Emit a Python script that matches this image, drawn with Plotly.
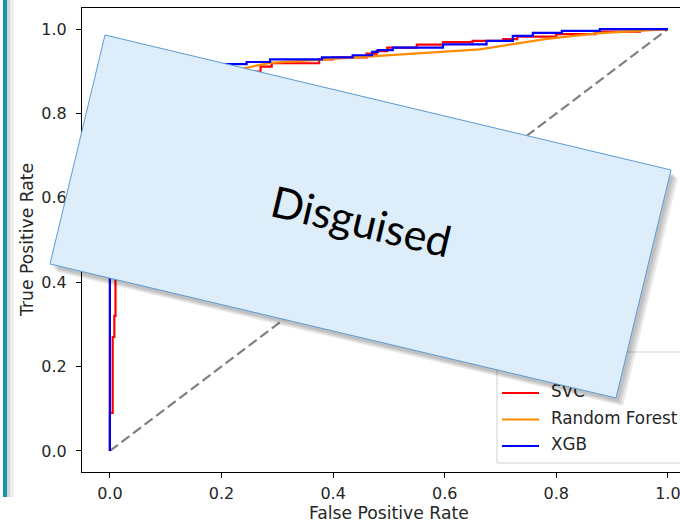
import plotly.graph_objects as go

# ---------------- data ----------------
model_names = ["SVC", "Random Forest", "XGB"]
model_colors = ["#ff0000", "#ff8c00", "#0000ff"]

svc_fpr = [0, 0, 0.005, 0.005, 0.008, 0.008, 0.01, 0.01, 0.03, 0.03, 0.08, 0.08, 0.15, 0.15, 0.2, 0.2,
           0.258, 0.258, 0.27, 0.27, 0.29, 0.29, 0.375, 0.375, 0.40, 0.40, 0.46, 0.46, 0.478, 0.478,
           0.497, 0.497, 0.55, 0.55, 0.597, 0.597, 0.65, 0.65, 0.705, 0.705, 0.73, 0.73, 0.80, 0.80,
           0.87, 0.87, 0.95, 0.95, 0.98, 0.98, 1.0]
svc_tpr = [0, 0.09, 0.09, 0.27, 0.27, 0.32, 0.32, 0.60, 0.60, 0.75, 0.75, 0.82, 0.82, 0.87, 0.87, 0.89,
           0.89, 0.899, 0.899, 0.911, 0.911, 0.919, 0.919, 0.928, 0.928, 0.933, 0.933, 0.942, 0.942, 0.948,
           0.948, 0.956, 0.956, 0.963, 0.963, 0.969, 0.969, 0.972, 0.972, 0.976, 0.976, 0.982, 0.982, 0.988,
           0.988, 0.994, 0.994, 0.998, 0.998, 1.0, 1.0]

rf_fpr = [0, 0, 0.05, 0.15, 0.24, 0.287, 0.663, 0.783, 0.873, 1.0]
rf_tpr = [0, 0.80, 0.86, 0.895, 0.907, 0.92, 0.952, 0.977, 0.99, 1.0]

xgb_fpr = [0, 0, 0.02, 0.02, 0.06, 0.06, 0.12, 0.12, 0.18, 0.18, 0.245, 0.245, 0.287, 0.287, 0.38, 0.38,
           0.435, 0.435, 0.47, 0.47, 0.48, 0.48, 0.507, 0.507, 0.597, 0.597, 0.675, 0.675, 0.722, 0.722,
           0.758, 0.758, 0.81, 0.81, 0.878, 0.878, 1.0]
xgb_tpr = [0, 0.80, 0.80, 0.85, 0.85, 0.88, 0.88, 0.90, 0.90, 0.917, 0.917, 0.922, 0.922, 0.928, 0.928, 0.933,
           0.933, 0.938, 0.938, 0.946, 0.946, 0.950, 0.950, 0.956, 0.956, 0.964, 0.964, 0.972, 0.972, 0.984,
           0.984, 0.991, 0.991, 0.996, 0.996, 1.0, 1.0]

chance_x = [0, 1]
chance_y = [0, 1]

tick_vals = [0.0, 0.2, 0.4, 0.6, 0.8, 1.0]
tick_text = ["0.0", "0.2", "0.4", "0.6", "0.8", "1.0"]

x_title = "False Positive Rate"
y_title = "True Positive Rate"
overlay_text = "Disguised"

# ---------------- layout geometry ----------------
W, H = 680, 523
ML, MR, MT, MB = 82, 0, 8, 51
PW, PH = W - ML - MR, H - MT - MB
PX_PER_X = 558.0
X0 = -0.05
Y_RANGE = [-0.05, 1.05]
X_RANGE = [X0, X0 + PW / PX_PER_X]


def px(x):
    return (x - ML) / PW


def py(y):
    return (H - MB - y) / PH


def dx(x):  # pixel -> data x
    return X0 + (x - ML) / PX_PER_X


def dy(y):  # pixel -> data y
    return Y_RANGE[1] - (y - MT) / PH * (Y_RANGE[1] - Y_RANGE[0])


FONT = "DejaVu Sans"
TEXT_COL = "#262626"

fig = go.Figure()

fig.add_trace(go.Scatter(x=chance_x, y=chance_y, mode="lines",
                         line=dict(color="#808080", width=2.2, dash="10px,4.5px"),
                         showlegend=False, hoverinfo="skip"))

for fx, ty, name, col in [(svc_fpr, svc_tpr, model_names[0], model_colors[0]),
                          (rf_fpr, rf_tpr, model_names[1], model_colors[1]),
                          (xgb_fpr, xgb_tpr, model_names[2], model_colors[2])]:
    fig.add_trace(go.Scatter(x=fx, y=ty, mode="lines", name=name,
                             line=dict(color=col, width=2.2), showlegend=False))

# manual matplotlib-style legend (drawn below the overlay box)
legend_rows_px = [393, 419.5, 446]
shapes = []
shapes.append(dict(type="rect", xref="paper", yref="paper", layer="below",
                   x0=px(497), x1=px(700), y0=py(463), y1=py(352),
                   line=dict(color="#d0d0d0", width=1), fillcolor="rgba(255,255,255,0.8)"))
for ry, name, col in zip(legend_rows_px, model_names, model_colors):
    shapes.append(dict(type="line", xref="paper", yref="paper", layer="below",
                       x0=px(502), x1=px(539), y0=py(ry), y1=py(ry),
                       line=dict(color=col, width=2.2)))
    fig.add_trace(go.Scatter(x=[dx(551)], y=[dy(ry)], mode="text", text=[name],
                             textposition="middle right", cliponaxis=False,
                             textfont=dict(family=FONT, size=16.8, color=TEXT_COL),
                             showlegend=False, hoverinfo="skip"))

# notebook cell border on the left
shapes.append(dict(type="rect", xref="paper", yref="paper", layer="above",
                   x0=px(3), x1=px(7), y0=py(497), y1=py(-2),
                   line=dict(width=0), fillcolor="#1797a6"))
shapes.append(dict(type="rect", xref="paper", yref="paper", layer="above",
                   x0=px(7), x1=px(10), y0=py(497), y1=py(-2),
                   line=dict(width=0), fillcolor="#d6d6d6"))
shapes.append(dict(type="rect", xref="paper", yref="paper", layer="above",
                   x0=px(10), x1=px(14), y0=py(497), y1=py(-2),
                   line=dict(width=0), fillcolor="#eeeeee"))

# overlay box
corners = [(105, 35), (671, 170), (616, 398), (50, 264)]


def poly(off_x=0, off_y=0):
    pts = [(px(x + off_x), py(y + off_y)) for x, y in corners]
    return "M " + " L ".join(f"{a:.5f},{b:.5f}" for a, b in pts) + " Z"


for o in [(7, 8), (5, 6), (3, 4)]:
    shapes.append(dict(type="path", xref="paper", yref="paper", layer="above",
                       path=poly(*o), line=dict(width=0), fillcolor="rgba(0,0,0,0.09)"))
shapes.append(dict(type="path", xref="paper", yref="paper", layer="above",
                   path=poly(), line=dict(color="#5b9bd5", width=1), fillcolor="#ddedf9"))

annotations = [
    dict(text=overlay_text, xref="paper", yref="paper", x=px(361), y=py(220),
         showarrow=False, textangle=13.4, xanchor="center", yanchor="middle",
         font=dict(family="Lato", size=43, color="#000000")),
    dict(text=x_title, xref="paper", yref="paper", x=px(389), y=py(513),
         showarrow=False, xanchor="center", yanchor="middle",
         font=dict(family=FONT, size=17.2, color=TEXT_COL)),
    dict(text=y_title, xref="paper", yref="paper", x=px(27), y=py(240),
         showarrow=False, textangle=-90, xanchor="center", yanchor="middle",
         font=dict(family=FONT, size=17.2, color=TEXT_COL)),
]

axis_common = dict(showgrid=False, zeroline=False, showline=True, linecolor="#000000", linewidth=1,
                   ticks="outside", ticklen=5, tickwidth=1, tickcolor="#000000",
                   tickvals=tick_vals, ticktext=tick_text, ticklabeloverflow="allow",
                   tickfont=dict(family=FONT, size=16, color=TEXT_COL))

fig.update_layout(
    width=W, height=H, margin=dict(l=ML, r=MR, t=MT, b=MB),
    paper_bgcolor="white", plot_bgcolor="white",
    xaxis=dict(range=X_RANGE, mirror=True, ticklabelstandoff=2, **axis_common),
    yaxis=dict(range=Y_RANGE, ticklabelstandoff=6, **axis_common),
    shapes=shapes, annotations=annotations, showlegend=False,
)

fig.write_html("out.html", config={"displayModeBar": False},
               post_script="document.body.style.margin='0px';document.body.style.overflow='hidden';")
